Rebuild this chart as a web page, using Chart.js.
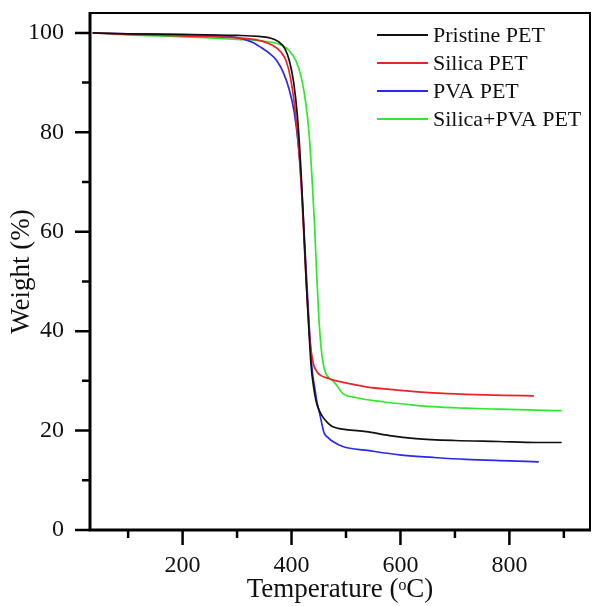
<!DOCTYPE html>
<html>
<head>
<meta charset="utf-8">
<script src="https://cdn.jsdelivr.net/npm/chart.js@4.4.1/dist/chart.umd.min.js"></script>
<style>
html,body{margin:0;padding:0;background:#fff;}
</style>
</head>
<body>
<canvas id="canvas" width="592" height="606"></canvas>
<script>
// TGA curves, temperature (C) vs weight (%)
const pristine_t = [35, 100, 200, 300, 340, 360, 375, 388, 396, 404, 411, 417, 422, 427, 432, 436, 439, 445, 451, 457, 466, 475, 500, 537, 580, 628, 700, 780, 850, 896];
const pristine_w = [100, 99.8, 99.7, 99.5, 99.3, 99.0, 98.3, 96.8, 94.4, 90, 83, 73, 62, 50, 40, 33, 30, 26, 24, 22.8, 21.6, 20.8, 20.2, 19.8, 19.0, 18.4, 18.0, 17.8, 17.6, 17.6];

const silica_t = [35, 100, 200, 300, 340, 365, 380, 390, 398, 406, 413, 419, 424, 429, 434, 440, 447, 455, 465, 475, 500, 537, 600, 659, 720, 790, 845];
const silica_w = [100, 99.7, 99.4, 99.0, 98.5, 97.5, 96.2, 94.4, 91, 85, 77, 67, 56, 46, 38, 33.5, 31.8, 31.0, 30.6, 30.2, 29.6, 28.8, 28.1, 27.6, 27.3, 27.1, 27.0];

const pva_t = [35, 100, 200, 280, 310, 330, 345, 358, 373, 385, 396, 405, 412, 418, 423, 428, 433, 438, 442, 447, 451, 456, 460, 468, 476, 494, 540, 598, 660, 720, 800, 854];
const pva_w = [100, 99.8, 99.6, 99.3, 98.8, 98.0, 97.0, 96.0, 94.4, 92, 88.5, 84, 78, 70, 60, 50, 40, 32, 29, 25.5, 23.8, 21.2, 19.5, 18.5, 17.8, 16.8, 16.0, 15.1, 14.6, 14.2, 13.9, 13.7];

const silpva_t = [35, 100, 200, 300, 350, 380, 395, 408, 418, 426, 432, 437, 442, 446, 450, 454, 458, 463, 470, 478, 494, 520, 567, 610, 659, 720, 781, 850, 896];
const silpva_w = [100, 99.6, 99.2, 98.7, 98.3, 97.6, 96.5, 94.4, 91, 86, 80, 72, 62, 52, 43, 37, 33.5, 31.5, 30.5, 29.8, 27.5, 26.6, 25.8, 25.3, 24.8, 24.5, 24.3, 24.1, 24.0];

const labels = ['Pristine PET', 'Silica PET', 'PVA PET', 'Silica+PVA PET'];
const colors = ['#111111', '#e8232a', '#2a2ae8', '#2ee82e'];

const xMajor = [200, 400, 600, 800];
const xMinor = [100, 300, 500, 700, 900];
const yMajor = [0, 20, 40, 60, 80, 100];
const yMinor = [10, 30, 50, 70, 90];

function pts(t, w)
{
    return t.map(function(v, i) { return {x: v, y: w[i]}; });
}
const series = [pts(pristine_t, pristine_w), pts(silica_t, silica_w), pts(pva_t, pva_w), pts(silpva_t, silpva_w)];

const FONT = "'Liberation Serif', 'Times New Roman', serif";
Chart.defaults.color = '#111';
Chart.defaults.font.family = FONT;

// frame box and in/out ticks like the origin plot
const frame = {
    id: 'frame',
    afterDatasetsDraw(chart) {
        const c = chart.ctx, a = chart.chartArea;
        const xs = chart.scales.x, ys = chart.scales.y;
        c.save();
        c.strokeStyle = '#000';
        c.lineWidth = 2;
        c.beginPath();
        c.moveTo(a.left, a.top); c.lineTo(a.right, a.top); c.lineTo(a.right, a.bottom);
        c.stroke();
        c.lineWidth = 3;
        c.beginPath();
        c.moveTo(a.left, a.top - 1); c.lineTo(a.left, a.bottom); c.lineTo(a.right + 1, a.bottom);
        c.stroke();
        c.lineWidth = 2.5;
        c.beginPath();
        xMajor.forEach(function(v) { const p = xs.getPixelForValue(v); c.moveTo(p, a.bottom); c.lineTo(p, a.bottom + 15); });
        xMinor.forEach(function(v) { const p = xs.getPixelForValue(v); c.moveTo(p, a.bottom); c.lineTo(p, a.bottom + 8); });
        yMajor.forEach(function(v) { const p = ys.getPixelForValue(v); c.moveTo(a.left, p); c.lineTo(a.left - 15, p); });
        yMinor.forEach(function(v) { const p = ys.getPixelForValue(v); c.moveTo(a.left, p); c.lineTo(a.left - 8, p); });
        c.stroke();
        c.restore();
    }
};

// legend inside the plot, top right
const insideLegend = {
    id: 'insideLegend',
    afterDraw(chart) {
        const c = chart.ctx;
        const x0 = 377, x1 = 428, y0 = 35, gap = 28;
        c.save();
        c.font = '22px ' + FONT;
        c.textBaseline = 'middle';
        c.textAlign = 'left';
        chart.data.datasets.forEach(function(ds, i) {
            const y = y0 + i * gap;
            c.strokeStyle = ds.borderColor;
            c.lineWidth = 2;
            c.beginPath(); c.moveTo(x0, y); c.lineTo(x1, y); c.stroke();
            c.fillStyle = '#111';
            c.fillText(ds.label, x1 + 5, y + 1);
        });
        c.restore();
    }
};

function noPad(s)
{
    s.paddingTop = 0; s.paddingBottom = 0; s.paddingLeft = 0; s.paddingRight = 0;
}

let ctx = document.getElementById('canvas').getContext('2d');
window.myLine = new Chart(ctx, {
    type: 'line',
    data: {
        datasets: series.map(function(d, i) {
            return {
                label: labels[i],
                data: d,
                borderColor: colors[i],
                backgroundColor: 'rgba(0, 0, 0, 0)',
                borderWidth: 1.7,
                pointRadius: 0,
                cubicInterpolationMode: 'monotone',
                fill: false
            };
        })
    },
    options: {
        responsive: false,
        animation: false,
        devicePixelRatio: 1,
        layout: { padding: { top: 13, right: 2, left: 0, bottom: 0 } },
        plugins: { legend: { display: false }, tooltip: { enabled: false } },
        scales: {
            x: {
                type: 'linear',
                min: 30,
                max: 948,
                grid: { display: false, drawTicks: false },
                border: { display: false },
                ticks: { stepSize: 200, includeBounds: false, padding: 21, maxRotation: 0, autoSkip: false, font: { size: 24 } },
                title: { display: true, text: 'Temperature (ᵒC)', font: { size: 27 }, padding: { top: 0, bottom: 0 } },
                afterFit: function(s) { s.height = 76; noPad(s); }
            },
            y: {
                min: 0,
                max: 104,
                grid: { display: false, drawTicks: false },
                border: { display: false },
                ticks: { stepSize: 20, includeBounds: false, padding: 26, font: { size: 24 } },
                title: { display: true, text: 'Weight (%)', font: { size: 27 }, padding: { top: 6, bottom: 0 } },
                afterFit: function(s) { s.width = 90; noPad(s); }
            }
        }
    },
    plugins: [frame, insideLegend]
});
</script>
</body>
</html>
